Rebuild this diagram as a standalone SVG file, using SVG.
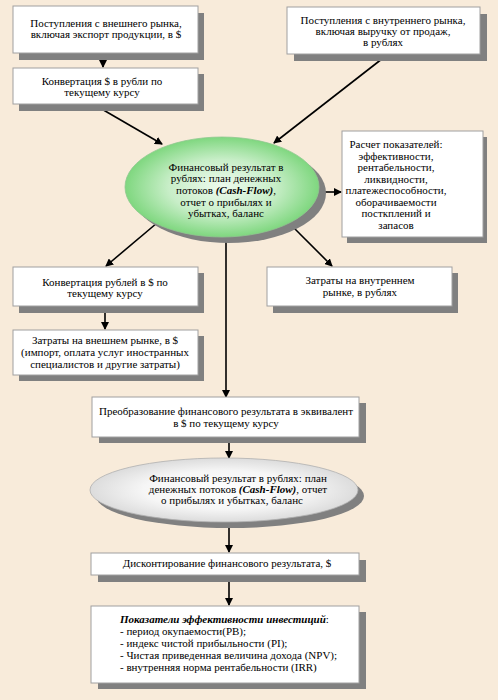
<svg xmlns="http://www.w3.org/2000/svg" width="498" height="700" viewBox="0 0 498 700">
<defs>
<marker id="ah" markerWidth="8" markerHeight="8" refX="7" refY="4" orient="auto" markerUnits="userSpaceOnUse">
<path d="M0,0 L8,4 L0,8 Z" fill="#000"/>
</marker>
<radialGradient id="g1" cx="50%" cy="50%" r="50%">
<stop offset="0" stop-color="#EEFAEE"/>
<stop offset="0.55" stop-color="#C8EEC8"/>
<stop offset="1" stop-color="#7FD77F"/>
</radialGradient>
<radialGradient id="g2" cx="50%" cy="50%" r="50%">
<stop offset="0" stop-color="#FFFFFF"/>
<stop offset="0.6" stop-color="#F6F6F6"/>
<stop offset="1" stop-color="#DCDCDC"/>
</radialGradient>
</defs>
<style>
text{font-family:"Liberation Serif","Times New Roman",serif;font-size:11px;fill:#000}
.c{text-anchor:middle}
.box{fill:#fff;stroke:#a0a0a0;stroke-width:1}
.sh{fill:#808080}
.ln{stroke:#000;stroke-width:1.6;fill:none;marker-end:url(#ah)}
.bi{font-weight:bold;font-style:italic}
</style>
<rect x="0" y="0" width="498" height="700" fill="#F8EBDA"/>

<g id="connectors">
<line class="ln" x1="103" y1="53" x2="103" y2="67"/>
<line class="ln" x1="100" y1="108" x2="162" y2="144"/>
<line class="ln" x1="387" y1="55" x2="274" y2="143"/>
<line class="ln" x1="318" y1="192" x2="341" y2="192"/>
<line class="ln" x1="157" y1="223" x2="106" y2="266"/>
<line class="ln" x1="288" y1="222" x2="332" y2="266"/>
<line class="ln" x1="105" y1="306" x2="105" y2="329"/>
<line class="ln" x1="226" y1="237" x2="226" y2="397"/>
<line class="ln" x1="229" y1="437" x2="229" y2="458"/>
<line class="ln" x1="229" y1="522" x2="229" y2="552"/>
<line class="ln" x1="229" y1="575" x2="229" y2="605"/>
</g>

<g id="n1">
<rect class="sh" x="19" y="13" width="185" height="47"/>
<rect class="box" x="13" y="6" width="185" height="47"/>
<text class="c" x="106" y="27">Поступления с внешнего рынка,</text>
<text class="c" x="106" y="38">включая экспорт продукции, в $</text>
</g>

<g id="n2">
<rect class="sh" x="19" y="74" width="185" height="37"/>
<rect class="box" x="13" y="68" width="185" height="36"/>
<text class="c" x="102" y="85">Конвертация $ в рубли по</text>
<text class="c" x="102" y="96">текущему курсу</text>
</g>

<g id="n3">
<rect class="sh" x="294" y="14" width="193" height="47"/>
<rect class="box" x="287" y="7" width="193" height="47"/>
<text class="c" x="383" y="24">Поступления с внутреннего рынка,</text>
<text class="c" x="383" y="35">включая выручку от продаж,</text>
<text class="c" x="383" y="46">в рублях</text>
</g>

<g id="n4">
<ellipse cx="229" cy="193" rx="97" ry="50" fill="#808080"/>
<ellipse cx="222" cy="187" rx="97" ry="50" fill="url(#g1)" stroke="#8fc88f" stroke-width="0.8"/>
<text class="c" x="226" y="171">Финансовый результат в</text>
<text class="c" x="226" y="182">рублях: план денежных</text>
<text class="c" x="226" y="194">потоков <tspan class="bi">(Cash-Flow)</tspan>,</text>
<text class="c" x="226" y="206">отчет о прибылях и</text>
<text class="c" x="226" y="217">убытках, баланс</text>
</g>

<g id="n5">
<rect class="sh" x="347" y="137" width="140" height="106"/>
<rect class="box" x="342" y="131" width="141" height="106"/>
<text class="c" x="396" y="148">Расчет показателей:</text>
<text class="c" x="396" y="159.5">эффективности,</text>
<text class="c" x="396" y="171">рентабельности,</text>
<text class="c" x="396" y="182.5">ликвидности,</text>
<text class="c" x="396" y="194">платежеспособности,</text>
<text class="c" x="396" y="205.5">оборачиваемости</text>
<text class="c" x="396" y="217">посткплений и</text>
<text class="c" x="396" y="228.5">запасов</text>
</g>

<g id="n6">
<rect class="sh" x="19" y="273" width="185" height="40"/>
<rect class="box" x="13" y="267" width="185" height="39"/>
<text class="c" x="105" y="286">Конвертация рублей в $ по</text>
<text class="c" x="105" y="297">текущему курсу</text>
</g>

<g id="n7">
<rect class="sh" x="273" y="273" width="185" height="40"/>
<rect class="box" x="267" y="267" width="185" height="39"/>
<text class="c" x="360" y="284">Затраты на внутреннем</text>
<text class="c" x="360" y="296">рынке, в рублях</text>
</g>

<g id="n8">
<rect class="sh" x="19" y="336" width="185" height="45"/>
<rect class="box" x="13" y="330" width="185" height="45"/>
<text class="c" x="105" y="344">Затраты на внешнем рынке, в $</text>
<text class="c" x="105" y="356">(импорт, оплата услуг иностранных</text>
<text class="c" x="105" y="368">специалистов и другие затраты)</text>
</g>

<g id="n9">
<rect class="sh" x="99" y="403" width="267" height="40"/>
<rect class="box" x="92" y="397" width="267" height="40"/>
<text class="c" x="226" y="415">Преобразование финансового результата в эквивалент</text>
<text class="c" x="226" y="427">в $ по текущему курсу</text>
</g>

<g id="n10">
<ellipse cx="230" cy="496" rx="134" ry="32" fill="#808080"/>
<ellipse cx="224" cy="490" rx="134" ry="32" fill="url(#g2)" stroke="#b0b0b0" stroke-width="0.8"/>
<text class="c" x="238" y="482">Финансовый результат в рублях: план</text>
<text class="c" x="238" y="493">денежных потоков <tspan class="bi">(Cash-Flow)</tspan>, отчет</text>
<text class="c" x="232" y="504">о прибылях и убытках, баланс</text>
</g>

<g id="n11">
<rect class="sh" x="98" y="560" width="268" height="22"/>
<rect class="box" x="91" y="553" width="268" height="22"/>
<text class="c" x="227" y="567">Дисконтирование финансового результата, $</text>
</g>

<g id="n12">
<rect class="sh" x="98" y="612" width="268" height="77"/>
<rect class="box" x="91" y="606" width="268" height="77"/>
<text x="120" y="623"><tspan class="bi">Показатели эффективности инвестиций</tspan>:</text>
<text x="120" y="635">- период окупаемости(PB);</text>
<text x="120" y="647">- индекс чистой прибыльности (PI);</text>
<text x="120" y="659">- Чистая приведенная величина дохода (NPV);</text>
<text x="120" y="671">- внутренняя норма рентабельности (IRR)</text>
</g>
</svg>
